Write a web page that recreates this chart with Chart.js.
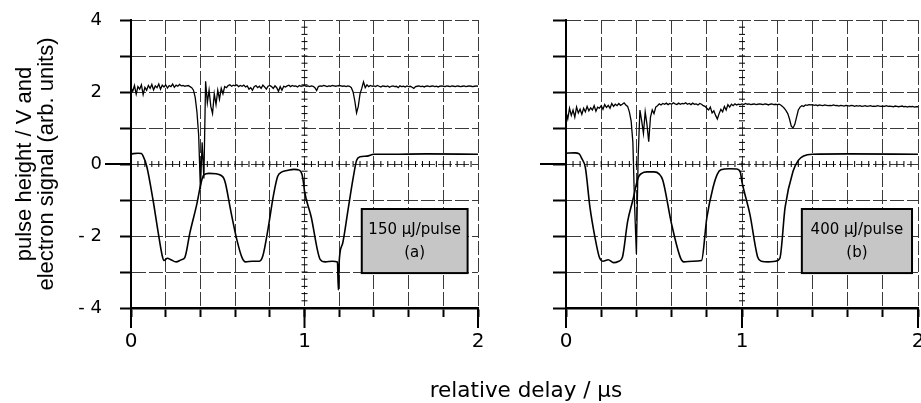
<!DOCTYPE html>
<html>
<head>
<meta charset="utf-8">
<script src="https://cdn.jsdelivr.net/npm/chart.js@4.4.1/dist/chart.umd.min.js"></script>
<style>
  html, body { margin: 0; padding: 0; background: #fff; }
  #wrap { position: relative; width: 921px; height: 403px; overflow: hidden; }
  #box-a { position: absolute; left: 0; top: 0; width: 490px; height: 403px; }
  #box-b { position: absolute; left: 490px; top: 0; width: 431px; height: 403px; }
  #xtitle {
    position: absolute; left: 326px; top: 378px; width: 400px;
    text-align: center; font: 21.5px "DejaVu Sans"; line-height: 24px; color: #000;
  }
</style>
</head>
<body>
<div id="wrap">
  <div id="box-a"><canvas id="chart-a"></canvas></div>
  <div id="box-b"><canvas id="chart-b"></canvas></div>
  <div id="xtitle">relative delay / μs</div>
</div>
<script>
// Oscilloscope traces, two laser energies side by side.
// Upper trace = electron signal, lower trace = laser pulse train.

const X_MIN = 0, X_MAX = 2, Y_MIN = -4, Y_MAX = 4;
const X_LABELED = [0, 1, 2];
const Y_LABELS  = { '4': '4', '2': '2', '0': '0', '-2': '- 2', '-4': '- 4' };
const Y_TITLE   = ['pulse height / V and', 'electron signal (arb. units)'];
const BOX_A     = ['150 μJ/pulse', '(a)'];
const BOX_B     = ['400 μJ/pulse', '(b)'];

// electron signal, one sample every 0.01 µs from 0 to 2 µs
const SIG_DT = 0.01;
const SIG_A = [
  2.12, 2.02, 2.18, 1.94, 2.15, 2.08, 2.20, 1.93, 2.13, 2.05,
  2.18, 2.10, 2.21, 2.06, 2.17, 2.12, 2.22, 2.08, 2.19, 2.14,
  2.20, 2.11, 2.18, 2.15, 2.22, 2.13, 2.19, 2.16, 2.21, 2.17,
  2.18, 2.16, 2.17, 2.18, 2.15, 2.12, 2.05, 1.85, 1.45, 0.80,
  -0.70, 0.60, -0.40, 2.30, 1.70, 2.05, 1.60, 1.40, 1.95, 1.65,
  2.05, 1.80, 2.10, 1.95, 2.15, 2.12, 2.18, 2.20, 2.16, 2.19,
  2.17, 2.20, 2.15, 2.18, 2.16, 2.19, 2.14, 2.17, 2.08, 2.12,
  2.05, 2.15, 2.18, 2.12, 2.16, 2.10, 2.19, 2.14, 2.08, 2.16,
  2.18, 2.15, 2.10, 2.17, 2.12, 2.02, 2.15, 2.05, 2.16, 2.14,
  2.17, 2.19, 2.15, 2.18, 2.16, 2.17, 2.14, 2.18, 2.16, 2.17,
  2.18, 2.16, 2.17, 2.15, 2.17, 2.16, 2.12, 2.04, 2.15, 2.17,
  2.16, 2.18, 2.17, 2.15, 2.17, 2.16, 2.18, 2.17, 2.16, 2.17,
  2.18, 2.17, 2.16, 2.17, 2.15, 2.17, 2.16, 2.12, 2.00, 1.75,
  1.42, 1.60, 1.95, 2.10, 2.28, 2.12, 2.20, 2.15, 2.18, 2.16,
  2.17, 2.15, 2.18, 2.16, 2.14, 2.17, 2.16, 2.15, 2.17, 2.13,
  2.16, 2.17, 2.15, 2.16, 2.12, 2.17, 2.15, 2.16, 2.14, 2.17,
  2.15, 2.16, 2.13, 2.10, 2.15, 2.16, 2.17, 2.15, 2.16, 2.14,
  2.16, 2.17, 2.15, 2.16, 2.17, 2.15, 2.16, 2.14, 2.16, 2.17,
  2.16, 2.15, 2.17, 2.16, 2.15, 2.17, 2.16, 2.15, 2.17, 2.16,
  2.15, 2.16, 2.17, 2.15, 2.16, 2.17, 2.16, 2.15, 2.16, 2.17,
  2.16
];
const SIG_B = [
  1.45, 1.25, 1.55, 1.35, 1.50, 1.30, 1.58, 1.42, 1.52, 1.38,
  1.55, 1.45, 1.60, 1.48, 1.56, 1.50, 1.62, 1.47, 1.58, 1.55,
  1.62, 1.52, 1.65, 1.57, 1.63, 1.55, 1.68, 1.60, 1.66, 1.62,
  1.68, 1.63, 1.66, 1.70, 1.64, 1.60, 1.45, 1.20, 0.60, -1.20,
  -2.50, 0.20, 1.50, 1.20, 0.85, 1.45, 1.10, 0.62, 1.30, 1.50,
  1.40, 1.58, 1.62, 1.67, 1.64, 1.68, 1.66, 1.69, 1.65, 1.68,
  1.66, 1.70, 1.67, 1.65, 1.69, 1.66, 1.68, 1.67, 1.70, 1.66,
  1.68, 1.65, 1.69, 1.66, 1.67, 1.64, 1.68, 1.66, 1.62, 1.60,
  1.55, 1.50, 1.58, 1.42, 1.48, 1.35, 1.25, 1.40, 1.52, 1.45,
  1.60, 1.50, 1.65, 1.58, 1.66, 1.62, 1.67, 1.64, 1.66, 1.65,
  1.67, 1.65, 1.68, 1.66, 1.67, 1.65, 1.66, 1.67, 1.65, 1.66,
  1.67, 1.66, 1.65, 1.67, 1.66, 1.64, 1.66, 1.67, 1.65, 1.66,
  1.65, 1.66, 1.64, 1.60, 1.55, 1.48, 1.40, 1.25, 1.05, 1.00,
  1.10, 1.30, 1.50, 1.58, 1.62, 1.60, 1.64, 1.63, 1.65, 1.64,
  1.65, 1.63, 1.64, 1.62, 1.64, 1.63, 1.62, 1.64, 1.63, 1.62,
  1.63, 1.62, 1.64, 1.62, 1.63, 1.61, 1.63, 1.62, 1.61, 1.63,
  1.62, 1.61, 1.63, 1.62, 1.60, 1.62, 1.61, 1.62, 1.60, 1.61,
  1.62, 1.60, 1.61, 1.62, 1.60, 1.61, 1.60, 1.62, 1.61, 1.60,
  1.61, 1.60, 1.62, 1.60, 1.61, 1.60, 1.59, 1.61, 1.60, 1.59,
  1.60, 1.61, 1.59, 1.60, 1.58, 1.60, 1.59, 1.60, 1.58, 1.59,
  1.59
];

// laser pulse trace, [delay µs, volts]
const PULSE_A = [
  [0.00, 0.28], [0.04, 0.30], [0.06, 0.29], [0.07, 0.22], [0.09, -0.05],
  [0.127, -1.00], [0.155, -1.85], [0.18, -2.55], [0.19, -2.68], [0.21, -2.62],
  [0.23, -2.66], [0.26, -2.72], [0.29, -2.66], [0.31, -2.60], [0.34, -1.90],
  [0.38, -1.10], [0.405, -0.50], [0.42, -0.30], [0.45, -0.26], [0.49, -0.27],
  [0.52, -0.32], [0.535, -0.40], [0.545, -0.55], [0.575, -1.30], [0.61, -2.10],
  [0.64, -2.60], [0.66, -2.72], [0.70, -2.70], [0.74, -2.70], [0.76, -2.55],
  [0.79, -1.80], [0.82, -0.90], [0.845, -0.35], [0.87, -0.22], [0.90, -0.18],
  [0.94, -0.15], [0.97, -0.17], [0.985, -0.28], [0.995, -0.55], [1.00, -0.75],
  [1.04, -1.50], [1.075, -2.40], [1.09, -2.65], [1.12, -2.72], [1.16, -2.70],
  [1.19, -2.72], [1.195, -3.50], [1.20, -2.70], [1.22, -2.20], [1.25, -1.30],
  [1.28, -0.40], [1.30, 0.10], [1.32, 0.20], [1.36, 0.22], [1.40, 0.27],
  [1.50, 0.27], [1.70, 0.28], [2.00, 0.27]
];
const PULSE_B = [
  [0.00, 0.30], [0.05, 0.31], [0.075, 0.28], [0.09, 0.15], [0.11, -0.10],
  [0.136, -1.20], [0.165, -2.05], [0.19, -2.60], [0.21, -2.70], [0.24, -2.66],
  [0.27, -2.74], [0.30, -2.70], [0.32, -2.60], [0.35, -1.60], [0.38, -1.00],
  [0.41, -0.38], [0.43, -0.26], [0.46, -0.22], [0.50, -0.22], [0.53, -0.28],
  [0.55, -0.45], [0.60, -1.67], [0.65, -2.60], [0.67, -2.72], [0.72, -2.70],
  [0.77, -2.68], [0.80, -1.50], [0.835, -0.66], [0.86, -0.28], [0.88, -0.16],
  [0.93, -0.13], [0.97, -0.14], [0.99, -0.22], [1.00, -0.50], [1.045, -1.40],
  [1.09, -2.60], [1.11, -2.70], [1.15, -2.72], [1.19, -2.70], [1.215, -2.62],
  [1.245, -1.20], [1.29, -0.20], [1.32, 0.10], [1.35, 0.22], [1.40, 0.27],
  [1.60, 0.28], [2.00, 0.27]
];

const INK = '#000';
const GRID = '#3a3a3a';
const TICK_FONT = 'DejaVu Sans';

// ── Extra scope furniture: long ticks, centre graticule, label box ─────────
const scopeDecor = {
  id: 'scopeDecor',
  afterDraw(chart, args, opts) {
    const { ctx, chartArea: a, scales: { x, y } } = chart;
    const seg = (x1, y1, x2, y2) => { ctx.beginPath(); ctx.moveTo(x1, y1); ctx.lineTo(x2, y2); ctx.stroke(); };
    ctx.save();
    ctx.strokeStyle = INK;

    // whole-microsecond ticks run further down
    ctx.lineWidth = 2;
    X_LABELED.forEach(v => { const px = x.getPixelForValue(v); seg(px, a.bottom, px, a.bottom + 20); });

    // zero-volt tick runs further left
    const y0 = y.getPixelForValue(0);
    seg(a.left - opts.zeroTick, y0, a.left, y0);

    // small graticule marks on the centre lines
    ctx.lineWidth = 1;
    const xc = x.getPixelForValue(1);
    for (let v = 0.04; v < X_MAX; v += 0.04) {
      const px = x.getPixelForValue(v);
      seg(px, y0 - 3, px, y0 + 3);
    }
    for (let v = Y_MIN + 0.2; v < Y_MAX; v += 0.2) {
      const py = y.getPixelForValue(v);
      seg(xc - 3, py, xc + 3, py);
    }

    // energy label box
    const b = opts.box;
    const bx0 = x.getPixelForValue(b.x0), bx1 = x.getPixelForValue(b.x1);
    const by0 = y.getPixelForValue(b.y0), by1 = y.getPixelForValue(b.y1);
    ctx.fillStyle = '#c6c6c6';
    ctx.fillRect(bx0, by0, bx1 - bx0, by1 - by0);
    ctx.lineWidth = 2;
    ctx.strokeRect(bx0, by0, bx1 - bx0, by1 - by0);
    ctx.fillStyle = INK;
    ctx.font = '15px "DejaVu Sans"';
    ctx.textAlign = 'center';
    ctx.textBaseline = 'middle';
    const cx = (bx0 + bx1) / 2;
    b.lines.forEach((t, i) => ctx.fillText(t, cx, by0 + 21 + i * 23));
    ctx.restore();
  }
};

function toPoints(sig) {
  return sig.map((v, i) => ({ x: i * SIG_DT, y: v }));
}

function makePanel(canvasId, sig, pulse, boxLines, first) {
  const ctx = document.getElementById(canvasId).getContext('2d');
  return new Chart(ctx, {
    type: 'line',
    data: {
      datasets: [
        {
          data: toPoints(sig),
          borderColor: INK, borderWidth: 1.3,
          pointRadius: 0, tension: 0
        },
        {
          data: pulse.map(([x, y]) => ({ x, y })),
          borderColor: INK, borderWidth: 1.6,
          pointRadius: 0, cubicInterpolationMode: 'monotone'
        }
      ]
    },
    options: {
      responsive: true,
      maintainAspectRatio: false,
      animation: false,
      events: [],
      layout: { autoPadding: false, padding: { left: 0, top: 20, right: first ? 12 : 3, bottom: 0 } },
      plugins: {
        legend: { display: false },
        tooltip: { enabled: false },
        scopeDecor: {
          zeroTick: 26,
          box: { x0: first ? 1.33 : 1.34, x1: first ? 1.94 : 1.966, y0: -1.25, y1: -3.03, lines: boxLines }
        }
      },
      scales: {
        x: {
          type: 'linear', min: X_MIN, max: X_MAX,
          afterFit: s => { s.height = 95; s.paddingLeft = 0; s.paddingRight = 0; },
          ticks: {
            stepSize: 0.2, autoSkip: false, maxRotation: 0, padding: 13,
            color: INK, font: { family: TICK_FONT, size: 20 },
            callback: v => {
              const r = Math.round(v);
              return Math.abs(v - r) < 1e-6 ? String(r) : '';
            }
          },
          grid: { color: GRID, lineWidth: 1, tickLength: 9, tickColor: INK, tickWidth: 2 },
          border: { color: INK, width: 2.5, dash: [14, 3] }
        },
        y: {
          min: Y_MIN, max: Y_MAX,
          afterFit: s => { s.width = first ? 131 : 76; s.paddingTop = 0; s.paddingBottom = 0; },
          ticks: {
            stepSize: 1, padding: 18,
            color: INK, font: { family: TICK_FONT, size: 18 },
            callback: v => (first && Y_LABELS[String(v)]) || ''
          },
          grid: { color: GRID, lineWidth: 1, tickLength: first ? 11 : 13, tickColor: INK, tickWidth: 2 },
          border: { color: INK, width: 2, dash: [14, 3] },
          title: {
            display: first,
            text: Y_TITLE,
            color: INK,
            font: { family: 'Liberation Sans', size: 22, lineHeight: 1.0 },
            padding: { top: 14, bottom: 0 }
          }
        }
      }
    },
    plugins: [scopeDecor]
  });
}

makePanel('chart-a', SIG_A, PULSE_A, BOX_A, true);
makePanel('chart-b', SIG_B, PULSE_B, BOX_B, false);
</script>
</body>
</html>
